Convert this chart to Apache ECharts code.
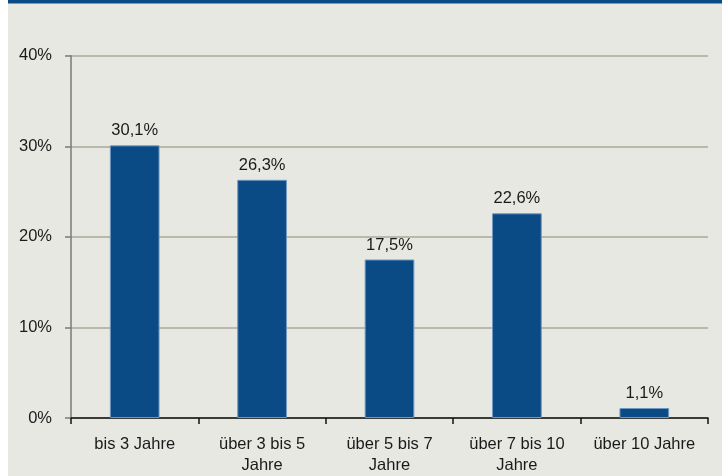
<!DOCTYPE html>
<html>
<head>
<meta charset="utf-8">
<script src="https://cdn.jsdelivr.net/npm/echarts@6/dist/echarts.min.js"></script>
<style>
  html, body { margin: 0; padding: 0; background: #ffffff; }
  #chart { width: 722px; height: 476px; }
</style>
</head>
<body>
<div id="chart"></div>
<script>
// Restlaufzeiten – Anteile je Laufzeitband
const categories = ['bis 3 Jahre', 'über 3 bis 5\nJahre', 'über 5 bis 7\nJahre', 'über 7 bis 10\nJahre', 'über 10 Jahre'];
const shares = [30.1, 26.3, 17.5, 22.6, 1.1];
const yTicks = [0, 10, 20, 30, 40];

const FONT = '"Liberation Sans", Arial, sans-serif';
const TEXT = '#1a1a1a';

const chart = echarts.init(document.getElementById('chart'), null, { renderer: 'canvas' });

const fmtPct = v => String(v).replace('.', ',') + '%';

chart.setOption({
  backgroundColor: '#e8e8e3',
  animation: false,
  textStyle: { fontFamily: FONT },
  graphic: [
    { type: 'rect', left: 0, top: 0, shape: { width: 8, height: 476 }, style: { fill: '#ffffff' }, z: 100 },
    { type: 'rect', left: 8, top: 0, shape: { width: 714, height: 3.5 }, style: { fill: '#0a4a85' }, z: 100 }
  ],
  grid: { left: 71, right: 14, top: 55.7, bottom: 54.3, containLabel: false },
  xAxis: {
    type: 'category',
    data: categories,
    boundaryGap: true,
    axisLine: { show: true, lineStyle: { color: '#111111', width: 1.5 } },
    axisTick: { show: true, alignWithLabel: false, length: 6, lineStyle: { color: '#111111', width: 1.5 } },
    axisLabel: {
      interval: 0,
      margin: 16,
      fontSize: 16.5,
      lineHeight: 21,
      color: TEXT,
      fontFamily: FONT
    }
  },
  yAxis: {
    type: 'value',
    min: yTicks[0],
    max: yTicks[yTicks.length - 1],
    interval: 10,
    axisLine: { show: true, lineStyle: { color: '#7a7a7a', width: 1.5 } },
    axisTick: { show: true, inside: false, length: 6, lineStyle: { color: '#7a7a7a', width: 1.5 } },
    splitLine: { show: true, lineStyle: { color: '#aaa898', width: 1.5 } },
    axisLabel: {
      margin: 19,
      fontSize: 16.5,
      lineHeight: 20,
      padding: [3, 0, 0, 0],
      color: TEXT,
      fontFamily: FONT,
      formatter: v => v + '%'
    }
  },
  series: [{
    type: 'bar',
    data: shares,
    barWidth: '39%',
    itemStyle: { color: '#0a4a85', borderColor: '#6f98c2', borderWidth: 1 },
    label: {
      show: true,
      position: 'top',
      distance: 6,
      fontSize: 16.5,
      color: TEXT,
      fontFamily: FONT,
      formatter: p => fmtPct(p.value)
    }
  }]
});
</script>
</body>
</html>
